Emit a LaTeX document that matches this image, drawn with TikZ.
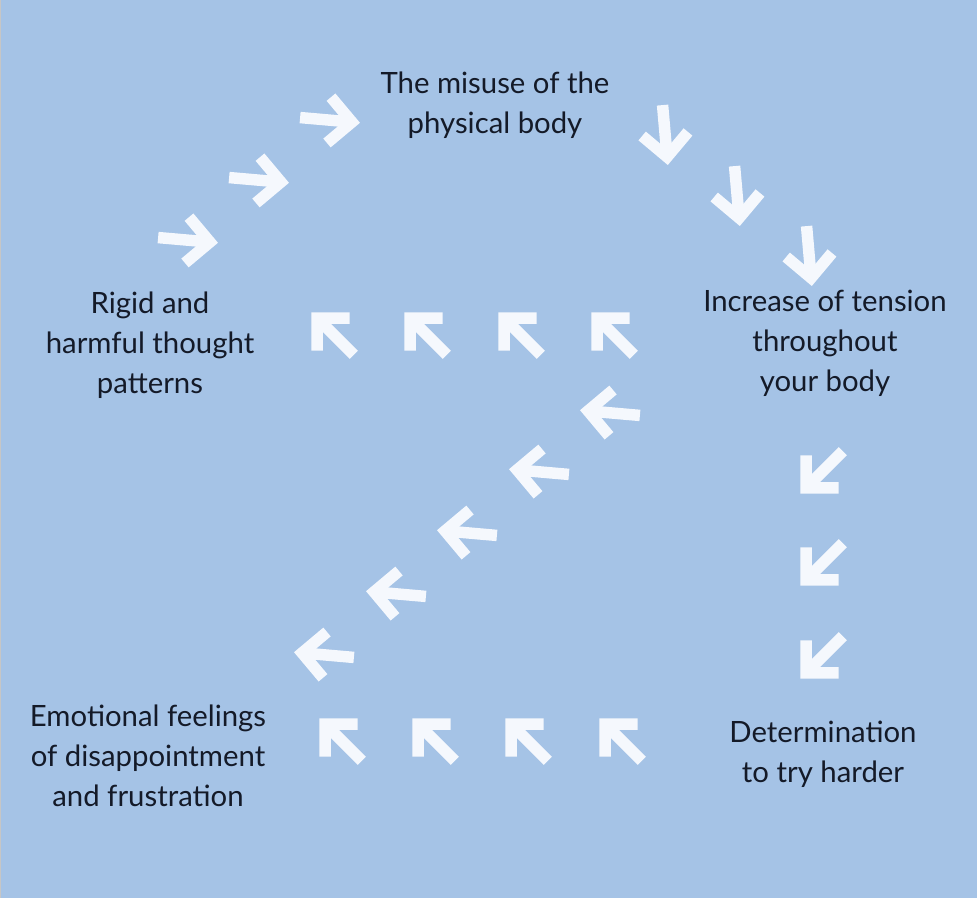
\documentclass[tikz,border=0pt]{standalone}
\usepackage{fontspec}
\setmainfont{Lato}
\usetikzlibrary{positioning}
\definecolor{loopbg}{RGB}{165,195,230}
\definecolor{loopwhite}{RGB}{245,248,253}
\definecolor{looptext}{RGB}{20,26,40}

\tikzset{
  cycle text/.style={text=looptext, align=center, inner sep=0pt,
    font=\fontsize{22}{30}\selectfont},
  cycle arrow/.pic={
    \draw[loopwhite, line width=8.6pt] (-28,0) -- (22,0);
    \draw[loopwhite, line width=8.6pt, miter limit=4] (1,23) -- (24,0) -- (1,-23);
  }
}

\begin{document}
\begin{tikzpicture}[x=0.75pt, y=-0.75pt]
  % background
  \fill[loopbg] (0,0) rectangle (977,898);
  \useasboundingbox (0,0) rectangle (977,898);
  \draw[gray!45, line width=0.75pt] (0.5,0) -- (0.5,898);

  % stages of the cycle
  \node[cycle text] (misuse) at (495,105) {The misuse of the\\physical body};
  \node[cycle text] (tension) at (825,343) {Increase of tension\\throughout\\your body};
  \node[cycle text] (determination) at (823,754) {Determination\\to try harder};
  \node[cycle text] (emotional) at (148,756) {Emotional feelings\\of disappointment\\and frustration};
  \node[cycle text] (rigid) at (150,345) {Rigid and\\harmful thought\\patterns};

  % arrows between the stages
  \foreach \x/\y/\a in {186/240/-5, 257/180/-5, 328/120/-5,
                        665/133/-85, 737/194/-85, 809/254/-85,
                        823/471/-135, 823/563/-135, 823/656/-135,
                        622/741/135, 528/741/135, 435/741/135, 342/741/135,
                        612/413/175, 541/472/175, 469/533/175, 398/594/175, 326/655/175,
                        614/335/135, 521/335/135, 427/335/135, 334/335/135}
    \pic[rotate=\a] at (\x,\y) {cycle arrow};
\end{tikzpicture}
\end{document}
